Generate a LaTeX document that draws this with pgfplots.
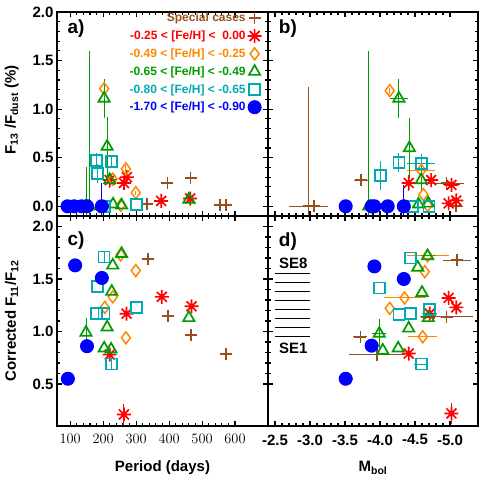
\documentclass[border=0pt]{standalone}
\usepackage{fontspec}
\setmainfont{Liberation Sans}
\usepackage{pgfplots}
\pgfplotsset{compat=1.18}

\definecolor{cbrown}{RGB}{150,80,30}
\definecolor{cred}{RGB}{255,0,0}
\definecolor{corange}{RGB}{255,135,0}
\definecolor{cgreen}{RGB}{0,155,0}
\definecolor{ccyan}{RGB}{0,170,180}
\definecolor{cblue}{RGB}{0,0,255}

% 8-ray asterisk like the IDL one
\pgfdeclareplotmark{star8}{%
  \pgfpathmoveto{\pgfqpoint{0pt}{\pgfplotmarksize}}\pgfpathlineto{\pgfqpoint{0pt}{-\pgfplotmarksize}}%
  \pgfpathmoveto{\pgfqpoint{\pgfplotmarksize}{0pt}}\pgfpathlineto{\pgfqpoint{-\pgfplotmarksize}{0pt}}%
  \pgfpathmoveto{\pgfqpoint{.707\pgfplotmarksize}{.707\pgfplotmarksize}}\pgfpathlineto{\pgfqpoint{-.707\pgfplotmarksize}{-.707\pgfplotmarksize}}%
  \pgfpathmoveto{\pgfqpoint{-.707\pgfplotmarksize}{.707\pgfplotmarksize}}\pgfpathlineto{\pgfqpoint{.707\pgfplotmarksize}{-.707\pgfplotmarksize}}%
  \pgfusepathqstroke}

\pgfplotsset{
  common/.style={
    scale only axis,
    axis line style={line width=1.5pt},
    major tick length=5pt, minor tick length=3pt,
    every tick/.style={black, line width=1.1pt},
    tick label style={font=\bfseries\fontsize{15}{17}\selectfont},
    label style={font=\bfseries\fontsize{15}{17}\selectfont},
    xticklabel style={yshift=-5pt},
    minor x tick num=4, minor y tick num=4,
  },
  per/.style={xmin=60, xmax=700, xtick={100,200,300,400,500,600}},
  mbol/.style={x dir=reverse, xmin=-5.4, xmax=-2.4,
    xtick={-2.5,-3,-3.5,-4,-4.5,-5},
    xticklabels={-2.5,-3.0,-3.5,-4.0,-4.5,-5.0}},
  ebar/.style={error bars/x dir=both, error bars/x explicit,
    error bars/y dir=both, error bars/y explicit,
    error bars/error mark=none,
    error bars/error bar style={line width=0.9pt}},
  sSpec/.style={only marks, mark=+, color=cbrown, mark size=6pt, line width=1.7pt, ebar},
  sRed/.style={only marks, mark=star8, color=cred, mark size=7pt, line width=1.7pt, ebar},
  sOra/.style={only marks, mark=diamond, color=corange, mark size=6pt, line width=1.5pt, ebar},
  sGre/.style={only marks, mark=triangle, color=cgreen, mark size=6.5pt, line width=1.7pt, ebar},
  sCya/.style={only marks, mark=square, color=ccyan, mark size=5.5pt, line width=1.7pt, ebar},
  sBlu/.style={only marks, mark=*, color=cblue, mark size=6.5pt, line width=1pt, ebar},
}

\begin{document}
\begin{tikzpicture}
\useasboundingbox (0pt,0pt) rectangle (485pt,485pt);

% ---- a) ----
\begin{axis}[common, per, at={(57pt,269pt)}, width=211pt, height=204pt,
  ymin=-0.1, ymax=2.0, ytick={0,0.5,1,1.5,2}, yticklabels={0.0,0.5,1.0,1.5,2.0},
  xticklabels={},
  ylabel={F\textsubscript{13} /F\textsubscript{dust} (\%)},
  ylabel style={at={(axis description cs:-0.215,0.52)}, anchor=center},
  legend plot pos=right, legend cell align=right,
  legend style={draw=none, fill=none, at={(axis description cs:0.985,1.015)}, anchor=north east,
    font=\bfseries\fontsize{12}{13}\selectfont, row sep=3.6pt}]
\addplot[sSpec] table[x=x, y=y, x error=ex, y error=ey] {
x y ex ey
332 0.02 0 0
395 0.24 0 0
465 0.29 0 0
554 0.01 0 0
572 0.01 0 0
};
\addlegendentry{\textcolor{cbrown}{Special cases}}
\addplot[sRed] table[x=x, y=y, x error=ex, y error=ey] {
x y ex ey
220 0.27 0 0.06
263 0.24 0 0.07
272 0.30 0 0.05
376 0.055 0 0.03
464 0.08 0 0.03
};
\addlegendentry{\textcolor{cred}{-0.25 < [Fe/H] <\ \ 0.00}}
\addplot[sOra] table[x=x, y=y, x error=ex, y error=ey] {
x y ex ey
203 1.21 0 0.03
229 0.28 0 0
253 0.01 0 0
269 0.385 0 0.04
299 0.14 0 0.02
};
\addlegendentry{\textcolor{corange}{-0.49 < [Fe/H] < -0.25}}
\addplot[sGre] table[x=x, y=y, x error=ex, y error=ey] {
x y ex ey
148 0.0 0 0.40
158 0.0 0 1.60
203 1.11 0 0.20
212 0.615 0 0.30
220 0.27 0 0.08
230 0.02 0 0
256 0.01 0 0
460 0.07 0 0.03
};
\addlegendentry{\textcolor{cgreen}{-0.65 < [Fe/H] < -0.49}}
\addplot[sCya] table[x=x, y=y, x error=ex, y error=ey] {
x y ex ey
180 0.47 0 0.08
182 0.335 0 0.10
203 0.0 0 0
205 0.0 0 0
226 0.46 0 0.05
302 0.02 0 0
};
\addlegendentry{\textcolor{ccyan}{-0.80 < [Fe/H] < -0.65}}
\addplot[sBlu] table[x=x, y=y, x error=ex, y error=ey] {
x y ex ey
92 0 0 0
112 0 0 0
135 0 0 0
151 0 0 0
196 0 0 0.24
};
\addlegendentry{\textcolor{cblue}{-1.70 < [Fe/H] < -0.90}}
\node[font=\bfseries\fontsize{19}{20}\selectfont] at (rel axis cs:0.09,0.92) {a)};
\end{axis}

% ---- b) ----
\begin{axis}[common, mbol, at={(268pt,269pt)}, width=210pt, height=204pt,
  ymin=-0.1, ymax=2.0, ytick={0,0.5,1,1.5,2}, yticklabels={}, xticklabels={}]
\addplot[sSpec] table[x=x, y=y, x error=ex, y error=ey] {
x y ex ey
-2.98 0 0.28 1.23
-3.06 0 0 0
-3.73 0.27 0.10 0
-4.95 0.24 0.25 0
-5.09 0 0.10 0
};
\addplot[sRed] table[x=x, y=y, x error=ex, y error=ey] {
x y ex ey
-4.41 0.24 0 0.08
-4.73 0.27 0.05 0.05
-5.02 0.22 0.12 0.07
-4.98 0.03 0 0
-5.09 0.06 0 0.05
};
\addplot[sOra] table[x=x, y=y, x error=ex, y error=ey] {
x y ex ey
-4.14 1.19 0 0.03
-4.59 0.37 0.20 0
-4.62 0.12 0 0
-4.68 0.01 0 0
};
\addplot[sGre] table[x=x, y=y, x error=ex, y error=ey] {
x y ex ey
-3.84 0 0 1.60
-4.27 1.11 0.13 0.20
-4.42 0.60 0 0.31
-4.59 0.27 0 0.10
-4.55 0.02 0 0
-4.69 0.03 0 0
};
\addplot[sCya] table[x=x, y=y, x error=ex, y error=ey] {
x y ex ey
-4.01 0.32 0 0.15
-4.27 0.45 0 0.10
-4.59 0.44 0.20 0.10
-4.46 0 0 0
-4.70 0 0 0
};
\addplot[sBlu] table[x=x, y=y, x error=ex, y error=ey] {
x y ex ey
-3.51 0 0 0
-3.88 0 0 0
-3.92 0 0 0
-4.11 0 0 0
-4.34 0 0 0.22
};
\node[font=\bfseries\fontsize{19}{20}\selectfont] at (rel axis cs:0.095,0.92) {b)};
\end{axis}

% ---- c) ----
\begin{axis}[common, per, at={(57pt,59pt)}, width=211pt, height=210pt,
  ymin=0.1, ymax=2.1, ytick={0.5,1,1.5,2}, yticklabels={0.5,1.0,1.5,2.0},
  xlabel={Period (days)},
  xlabel style={at={(axis description cs:0.5,-0.2)}, anchor=center},
  ylabel={Corrected F\textsubscript{11}/F\textsubscript{12}},
  ylabel style={at={(axis description cs:-0.215,0.5)}, anchor=center}]
\addplot[sSpec] table[x=x, y=y, x error=ex, y error=ey] {
x y ex ey
335 1.69 0 0
397 1.15 0 0
466 0.965 0 0
572 0.785 0 0
};
\addplot[sRed] table[x=x, y=y, x error=ex, y error=ey] {
x y ex ey
220 0.78 0 0.05
263 0.21 0 0.10
271 1.17 0 0.04
378 1.33 0 0.03
468 1.24 0 0.04
};
\addplot[sOra] table[x=x, y=y, x error=ex, y error=ey] {
x y ex ey
205 1.23 0 0
229 1.33 0 0
253 1.73 0 0
269 0.94 0 0
299 1.58 0 0
};
\addplot[sGre] table[x=x, y=y, x error=ex, y error=ey] {
x y ex ey
148 0.99 0 0.14
203 0.84 0 0
212 1.04 0 0
224 0.83 0 0
226 1.38 0 0
229 1.63 0 0
256 1.74 0 0
460 1.13 0 0
};
\addplot[sCya] table[x=x, y=y, x error=ex, y error=ey] {
x y ex ey
203 1.71 0 0.05
182 1.43 0 0
180 1.17 0 0
203 1.17 0 0
226 0.69 0 0.06
302 1.23 0 0
};
\addplot[sBlu] table[x=x, y=y, x error=ex, y error=ey] {
x y ex ey
93 0.55 0 0.06
115 1.63 0 0.04
151 0.86 0 0
196 1.51 0 0
};
\node[font=\bfseries\fontsize{19}{20}\selectfont] at (rel axis cs:0.09,0.885) {c)};
\end{axis}

% ---- d) ----
\begin{axis}[common, mbol, at={(268pt,59pt)}, width=210pt, height=210pt,
  ymin=0.1, ymax=2.1, ytick={0.5,1,1.5,2}, yticklabels={},
  xlabel={M\textsubscript{bol}},
  xlabel style={at={(axis description cs:0.5,-0.2)}, anchor=center},
  unbounded coords=jump]
\addplot[black, line width=1.2pt, mark=none] table {
x y
-2.5 1.550
-3.0 1.550
nan nan
-2.5 1.465
-3.0 1.465
nan nan
-2.5 1.380
-3.0 1.380
nan nan
-2.5 1.295
-3.0 1.295
nan nan
-2.5 1.210
-3.0 1.210
nan nan
-2.5 1.125
-3.0 1.125
nan nan
-2.5 1.040
-3.0 1.040
nan nan
-2.5 0.955
-3.0 0.955
};
\node[font=\bfseries\fontsize{15}{17}\selectfont] at (axis cs:-2.76,1.645) {SE8};
\node[font=\bfseries\fontsize{15}{17}\selectfont] at (axis cs:-2.76,0.835) {SE1};
\addplot[sSpec] table[x=x, y=y, x error=ex, y error=ey] {
x y ex ey
-5.10 1.68 0.20 0
-3.72 0.95 0.10 0
-3.96 0.78 0.40 0
-4.95 1.14 0.38 0
};
\addplot[sRed] table[x=x, y=y, x error=ex, y error=ey] {
x y ex ey
-4.41 0.79 0.05 0
-5.02 0.22 0 0.10
-4.71 1.17 0 0
-4.98 1.32 0.05 0
-5.09 1.23 0 0
};
\addplot[sOra] table[x=x, y=y, x error=ex, y error=ey] {
x y ex ey
-4.64 1.57 0 0
-4.35 1.32 0.30 0
-4.14 1.22 0 0
-4.61 0.95 0.21 0
-4.68 1.72 0.30 0
};
\addplot[sGre] table[x=x, y=y, x error=ex, y error=ey] {
x y ex ey
-4.68 1.72 0.10 0
-4.54 1.61 0 0
-4.60 1.37 0 0
-4.41 1.03 0 0
-3.99 0.98 0.10 0.14
-4.04 0.82 0 0
-4.26 0.84 0 0
-4.69 1.13 0.10 0
};
\addplot[sCya] table[x=x, y=y, x error=ex, y error=ey] {
x y ex ey
-4.44 1.70 0 0
-3.99 1.415 0 0
-4.27 1.16 0 0
-4.44 1.17 0 0
-4.59 0.69 0.10 0
-4.71 1.21 0 0
};
\addplot[sBlu] table[x=x, y=y, x error=ex, y error=ey] {
x y ex ey
-3.51 0.55 0.10 0.04
-3.92 1.62 0 0
-3.88 0.865 0.10 0
-4.34 1.50 0 0
};
\node[font=\bfseries\fontsize{19}{20}\selectfont] at (rel axis cs:0.095,0.88) {d)};
\end{axis}
\end{tikzpicture}
\end{document}
